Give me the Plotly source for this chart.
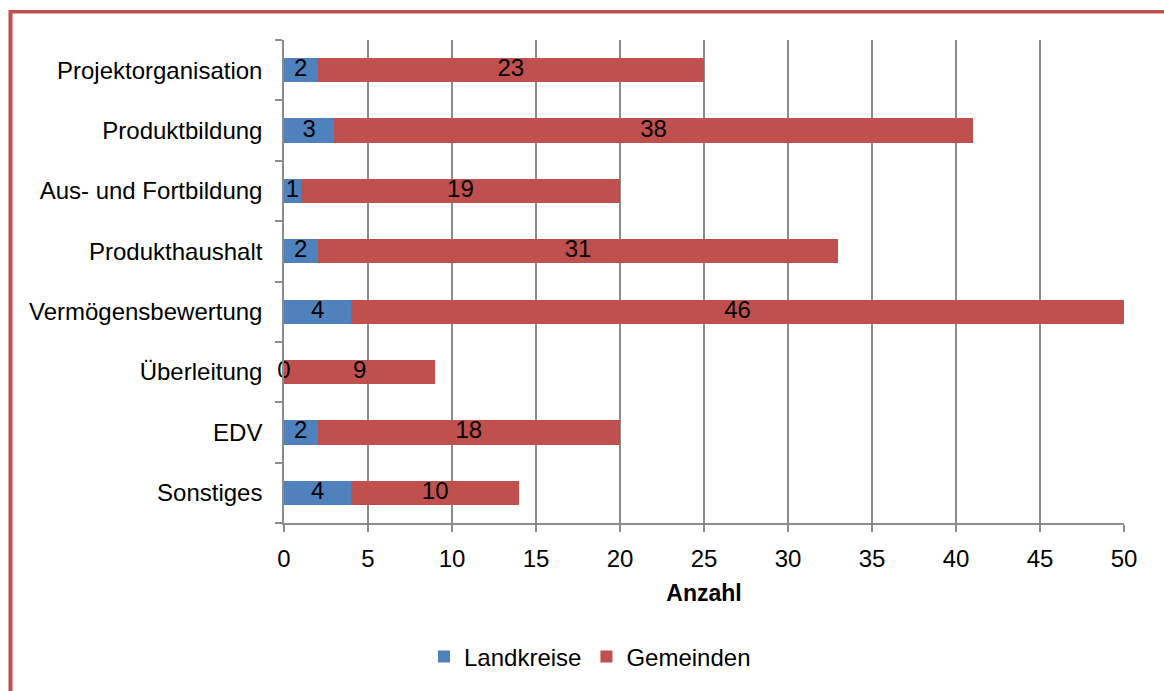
import plotly.graph_objects as go

categories = ["Projektorganisation", "Produktbildung", "Aus- und Fortbildung", "Produkthaushalt",
              "Vermögensbewertung", "Überleitung", "EDV", "Sonstiges"]
landkreise = [2, 3, 1, 2, 4, 0, 2, 4]
gemeinden = [23, 38, 19, 31, 46, 9, 18, 10]
x_ticks = [0, 5, 10, 15, 20, 25, 30, 35, 40, 45, 50]

BLUE = "#4F81BD"
RED = "#C0504D"
GRID = "#8C8C8C"
FONT = "Liberation Sans, Arial, sans-serif"
FS = 24

fig = go.Figure()
fig.add_trace(go.Bar(y=categories, x=landkreise, orientation="h", name="Landkreise",
                     marker=dict(color=BLUE, line=dict(width=0))))
fig.add_trace(go.Bar(y=categories, x=gemeinden, orientation="h", name="Gemeinden",
                     marker=dict(color=RED, line=dict(width=0))))

# value labels centred in each segment
lx = [l / 2 for l in landkreise]
gx = [l + g / 2 for l, g in zip(landkreise, gemeinden)]
fig.add_trace(go.Scatter(y=categories, x=lx, mode="text", text=[str(v) for v in landkreise],
                         textfont=dict(family=FONT, size=FS, color="black"),
                         showlegend=False, hoverinfo="skip", cliponaxis=False))
fig.add_trace(go.Scatter(y=categories, x=gx, mode="text", text=[str(v) for v in gemeinden],
                         textfont=dict(family=FONT, size=FS, color="black"),
                         showlegend=False, hoverinfo="skip", cliponaxis=False))

W, H = 1164, 691
L, R, T, B = 284, 40, 40, 164
pw, ph = W - L - R, H - T - B

def px2paper_x(px):
    return (px - L) / pw

def px2paper_y(py):
    return (H - B - py) / ph

fig.update_layout(
    width=W, height=H,
    margin=dict(l=L, r=R, t=T, b=B),
    barmode="stack", bargap=0.6,
    plot_bgcolor="white", paper_bgcolor="white",
    font=dict(family=FONT, size=FS, color="black"),
    xaxis=dict(range=[0, 50], tickvals=x_ticks, showgrid=True, gridcolor=GRID, gridwidth=1.5,
               showline=True, linecolor=GRID, linewidth=1.5, ticks="outside", ticklen=7,
               tickcolor=GRID, tickwidth=1.5, zeroline=False, ticklabelstandoff=6,
               title=dict(text="<b>Anzahl</b>", font=dict(size=FS - 1), standoff=14)),
    yaxis=dict(categoryorder="array", categoryarray=categories[::-1], showgrid=False,
               showline=True, linecolor=GRID, linewidth=1.5, ticks="outside", ticklen=7,
               tickcolor=GRID, tickwidth=1.5, tickson="boundaries", ticklabelstandoff=15),
    legend=dict(orientation="h", x=px2paper_x(590), xanchor="center", y=px2paper_y(662),
                yanchor="middle", font=dict(size=FS), itemwidth=30, traceorder="normal"),
    shapes=[
        dict(type="line", xref="paper", yref="paper", x0=px2paper_x(10.5), x1=px2paper_x(1200),
             y0=px2paper_y(11.5), y1=px2paper_y(11.5), line=dict(color=RED, width=3.5)),
        dict(type="line", xref="paper", yref="paper", x0=px2paper_x(10.5), x1=px2paper_x(10.5),
             y0=px2paper_y(9.8), y1=px2paper_y(720), line=dict(color=RED, width=4)),
    ],
)

fig.write_html("out.html")
